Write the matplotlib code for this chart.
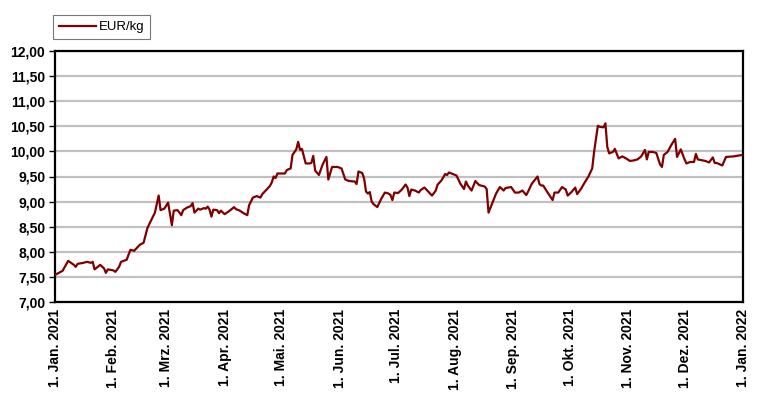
import numpy as np
import matplotlib
matplotlib.use("Agg")
import matplotlib.pyplot as plt
import matplotlib.dates as mdates
from matplotlib.ticker import FuncFormatter, MultipleLocator

plt.rcParams['font.family'] = ['Liberation Sans', 'DejaVu Sans']

# day offset from 1 Jan 2021, price in EUR/kg
day = [0, 4, 7, 10, 11, 12, 15, 17, 19, 20, 21, 24, 26, 27, 28, 31, 32, 34, 35, 38,
       40, 42, 45, 47, 49, 50, 53, 55, 56, 58, 60, 62, 63, 65, 67, 68, 70, 72, 73, 74,
       76, 77, 79, 80, 81, 82, 83, 84, 86, 87, 88, 90, 92, 95, 96, 98, 100, 102, 103, 105,
       107, 109, 110, 112, 114, 115, 116, 117, 118, 122, 123, 125, 126, 128, 129, 130, 131, 133, 135, 136,
       137, 138, 140, 142, 144, 145, 147, 150, 152, 154, 156, 159, 160, 161, 163, 164, 165, 166, 167, 168,
       169, 171, 173, 175, 177, 178, 179, 180, 182, 184, 186, 187, 188, 189, 191, 193, 194, 196, 198, 200,
       202, 203, 205, 207, 208, 209, 211, 213, 215, 217, 218, 219, 221, 223, 225, 228, 229, 230, 232, 234,
       236, 238, 239, 242, 244, 246, 247, 248, 250, 251, 253, 256, 257, 258, 259, 261, 264, 265, 267, 269,
       271, 272, 274, 276, 277, 279, 281, 283, 285, 286, 288, 289, 291, 292, 293, 294, 296, 297, 299, 301,
       303, 305, 307, 309, 311, 313, 314, 315, 317, 319, 321, 322, 323, 325, 327, 329, 330, 332, 334, 335,
       337, 339, 340, 341, 345, 347, 349, 350, 351, 354, 356, 360, 363, 365]
eur_kg = [7.54, 7.62, 7.82, 7.74, 7.70, 7.76, 7.78, 7.80, 7.78, 7.80, 7.65, 7.74, 7.67, 7.58, 7.65, 7.63, 7.60, 7.70, 7.80, 7.84,
          8.04, 8.02, 8.14, 8.18, 8.47, 8.55, 8.78, 9.12, 8.83, 8.86, 8.98, 8.53, 8.82, 8.83, 8.73, 8.83, 8.88, 8.91, 8.97, 8.78,
          8.86, 8.84, 8.87, 8.86, 8.90, 8.84, 8.70, 8.84, 8.83, 8.77, 8.82, 8.75, 8.80, 8.89, 8.85, 8.82, 8.77, 8.73, 8.93, 9.08,
          9.11, 9.08, 9.15, 9.23, 9.31, 9.38, 9.50, 9.47, 9.56, 9.56, 9.63, 9.66, 9.93, 10.04, 10.19, 10.03, 10.05, 9.76, 9.76, 9.77,
          9.91, 9.62, 9.53, 9.74, 9.89, 9.44, 9.69, 9.69, 9.66, 9.44, 9.41, 9.40, 9.35, 9.60, 9.57, 9.46, 9.20, 9.16, 9.19, 9.00,
          8.95, 8.89, 9.05, 9.18, 9.16, 9.13, 9.03, 9.18, 9.17, 9.24, 9.34, 9.28, 9.11, 9.24, 9.22, 9.18, 9.23, 9.28, 9.20, 9.12,
          9.22, 9.34, 9.42, 9.55, 9.53, 9.58, 9.55, 9.52, 9.36, 9.25, 9.40, 9.32, 9.22, 9.41, 9.33, 9.30, 9.25, 8.78, 8.97, 9.16,
          9.29, 9.22, 9.27, 9.29, 9.18, 9.18, 9.20, 9.22, 9.13, 9.20, 9.36, 9.50, 9.35, 9.32, 9.32, 9.20, 9.03, 9.18, 9.18, 9.29,
          9.24, 9.12, 9.19, 9.28, 9.15, 9.25, 9.38, 9.50, 9.66, 9.99, 10.51, 10.49, 10.48, 10.56, 10.09, 9.96, 9.99, 10.05, 9.86, 9.90,
          9.86, 9.81, 9.82, 9.84, 9.90, 10.03, 9.84, 9.99, 9.99, 9.97, 9.74, 9.69, 9.93, 9.99, 10.13, 10.25, 9.89, 10.04, 9.84, 9.76,
          9.79, 9.79, 9.95, 9.84, 9.81, 9.78, 9.88, 9.77, 9.77, 9.72, 9.89, 9.90, 9.92, 9.93]
series_name = "EUR/kg"
month_labels = ["1. Jan. 2021", "1. Feb. 2021", "1. Mrz. 2021", "1. Apr. 2021", "1. Mai. 2021",
                "1. Jun. 2021", "1. Jul. 2021", "1. Aug. 2021", "1. Sep. 2021", "1. Okt. 2021",
                "1. Nov. 2021", "1. Dez. 2021", "1. Jan. 2022"]
month_starts = ["2021-01-01", "2021-02-01", "2021-03-01", "2021-04-01", "2021-05-01", "2021-06-01",
                "2021-07-01", "2021-08-01", "2021-09-01", "2021-10-01", "2021-11-01", "2021-12-01",
                "2022-01-01"]

dates = np.datetime64("2021-01-01") + np.array(day).astype("timedelta64[D]")
ticks = np.array(month_starts, dtype="datetime64[D]")

W, H = 762, 412
fig = plt.figure(figsize=(W / 100, H / 100), dpi=100)
ax = fig.add_axes([55 / W, 1 - 302 / H, (743 - 55) / W, (302 - 51) / H])

ax.plot(dates, eur_kg, color="#800000", lw=1.6, label=series_name, zorder=3)

ax.set_ylim(7, 12)
ax.yaxis.set_major_locator(MultipleLocator(0.5))
ax.yaxis.set_major_formatter(FuncFormatter(lambda v, p: f"{v:.2f}".replace(".", ",")))
ax.set_xlim(ticks[0], ticks[-1])
ax.set_xticks(ticks)
ax.set_xticklabels(month_labels, rotation=90, fontsize=10, fontweight="bold")
for lab in ax.get_yticklabels():
    lab.set_fontweight("bold")
    lab.set_fontsize(10)

ax.grid(axis="y", color="#c0c0c0", lw=1.6, zorder=0)
ax.set_axisbelow(True)
for s in ax.spines.values():
    s.set_linewidth(1.6)
    s.set_color("black")
ax.tick_params(axis="y", length=4, width=1, pad=3)
ax.tick_params(axis="x", length=0, pad=5)

leg = fig.legend(loc="upper left", bbox_to_anchor=(53 / W, 1 - 15 / H), fontsize=9.5,
                 frameon=True, fancybox=False, handlelength=2.8, borderpad=0.45,
                 handletextpad=0.2, borderaxespad=0)
leg.get_frame().set_edgecolor("#555555")
leg.get_frame().set_linewidth(0.8)

fig.savefig("out.png", dpi=100)
